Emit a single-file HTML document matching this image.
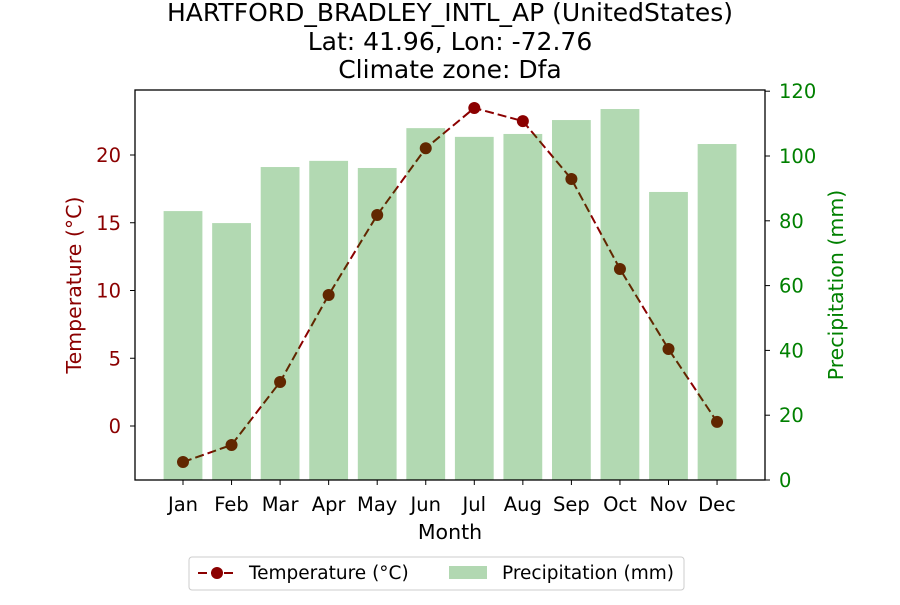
<!DOCTYPE html>
<html><head><meta charset="utf-8"><style>
body{margin:0;background:#fff;font-family:"Liberation Sans","DejaVu Sans",sans-serif}
</style></head><body>
<svg id="chart" width="900" height="600" xmlns="http://www.w3.org/2000/svg" font-family="DejaVu Sans, Liberation Sans, sans-serif">
<g font-size="25" text-anchor="middle" fill="#000">
<text x="450" y="21">HARTFORD_BRADLEY_INTL_AP (UnitedStates)</text>
<text x="450" y="50">Lat: 41.96, Lon: -72.76</text>
<text x="450" y="78">Climate zone: Dfa</text>
</g>
<g id="line"></g>
<g id="bars"></g>
<rect x="135" y="90" width="630" height="390" fill="none" stroke="#000" stroke-width="1.3"/>
<g id="axes"></g>
<text x="450" y="539" font-size="20.5" text-anchor="middle">Month</text>
<text transform="translate(81,285) rotate(-90)" font-size="20.5" text-anchor="middle" fill="#8b0000">Temperature (°C)</text>
<text transform="translate(843,285) rotate(-90)" font-size="20.5" text-anchor="middle" fill="#008000">Precipitation (mm)</text>
<g>
<rect x="189" y="557" width="495" height="33" rx="3" fill="#fff" stroke="#ccc"/>
<line x1="198" y1="573" x2="236" y2="573" stroke="#8b0000" stroke-width="2" stroke-dasharray="9,4"/>
<circle cx="217" cy="573" r="6" fill="#8b0000"/>
<text x="249" y="579" font-size="18.5">Temperature (°C)</text>
<rect x="449" y="566" width="38" height="13" fill="#b2d8b2"/>
<text x="502" y="579" font-size="18.5">Precipitation (mm)</text>
</g>
</svg>
<script>
const months=["Jan","Feb","Mar","Apr","May","Jun","Jul","Aug","Sep","Oct","Nov","Dec"];
const precip=[83,79.3,96.6,98.5,96.3,108.6,105.9,106.8,111.1,114.5,88.9,103.7];
const temps=[-2.66,-1.4,3.25,9.67,15.57,20.5,23.47,22.5,18.23,11.59,5.68,0.3];
const tempTicks=[0,5,10,15,20];
const precipTicks=[0,20,40,60,80,100,120];
const NS="http://www.w3.org/2000/svg";
const xS=i=>183+i*48.55;
const yT=v=>426-v*13.55;
const yP=v=>480-v*3.24;
function mk(tag,attrs,parent){const e=document.createElementNS(NS,tag);for(const k in attrs)e.setAttribute(k,attrs[k]);parent.appendChild(e);return e;}
const bars=document.getElementById('bars'),line=document.getElementById('line'),axes=document.getElementById('axes');
precip.forEach((v,i)=>{
const r=mk('rect',{x:xS(i)-19.4,y:yP(v),width:38.8,height:480-yP(v),fill:'#008000','fill-opacity':0.3},bars);


});
const pl=mk('polyline',{points:temps.map((v,i)=>xS(i)+','+yT(v)).join(' '),fill:'none',stroke:'#8b0000','stroke-width':2,'stroke-dasharray':'9,4'},line);


temps.forEach((v,i)=>{
const c=mk('circle',{cx:xS(i),cy:yT(v),r:6,fill:'#8b0000'},line);


});
months.forEach((m,i)=>{
mk('line',{x1:xS(i),x2:xS(i),y1:480,y2:485,stroke:'#000'},axes);
const t=mk('text',{x:xS(i),y:511,'font-size':19.5,'text-anchor':'middle'},axes);t.textContent=m;


});
tempTicks.forEach(v=>{
mk('line',{x1:130,x2:135,y1:yT(v),y2:yT(v),stroke:'#000'},axes);
const t=mk('text',{x:121,y:yT(v)+7,'font-size':19.5,'text-anchor':'end',fill:'#8b0000'},axes);t.textContent=v;


});
precipTicks.forEach(v=>{
mk('line',{x1:765,x2:770,y1:yP(v),y2:yP(v),stroke:'#000'},axes);
const t=mk('text',{x:779,y:yP(v)+7,'font-size':19.5,'text-anchor':'start',fill:'#008000'},axes);t.textContent=v;


});
</script>
</body></html>
